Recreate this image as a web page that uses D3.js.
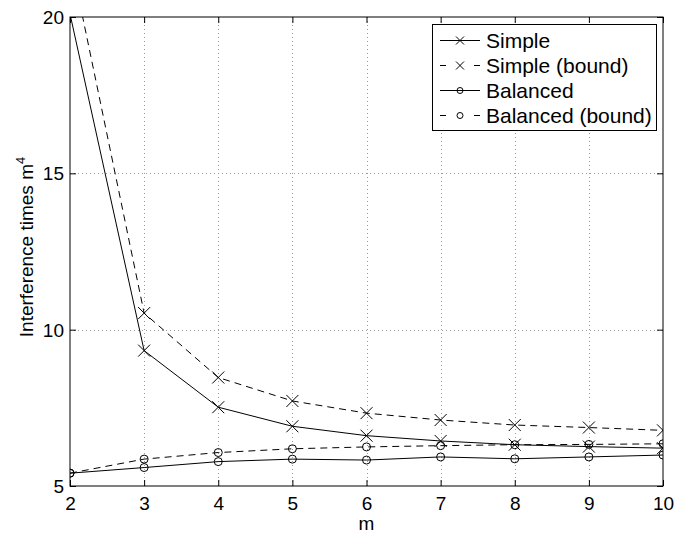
<!DOCTYPE html>
<html><head><meta charset="utf-8">
<script src="https://cdn.jsdelivr.net/npm/d3@7"></script>
<style>body{margin:0;background:#fff}svg{display:block}text{font-family:"Liberation Sans",Arial,sans-serif;fill:#000}</style>
</head><body>
<svg id="c" width="675" height="534"></svg>
<script>
const mValues = [2,3,4,5,6,7,8,9,10];
const simple = [20.1,9.33,7.52,6.91,6.61,6.44,6.32,6.26,6.21];
const simpleBound = [21.95,10.53,8.47,7.72,7.33,7.11,6.95,6.87,6.78];
const balanced = [5.41,5.59,5.78,5.86,5.83,5.93,5.87,5.93,5.99];
const balancedBound = [5.41,5.86,6.07,6.19,6.25,6.29,6.32,6.33,6.35];
const xTicks = [2,3,4,5,6,7,8,9,10];
const yTicks = [5,10,15,20];
const seriesNames = ["Simple","Simple (bound)","Balanced","Balanced (bound)"];

const svg = d3.select("#c");
const L=70, R=663, T=17, B=486;
const x = d3.scaleLinear().domain([2,10]).range([L,R]);
const y = d3.scaleLinear().domain([5,20]).range([B,T]);

// grid
const grid = svg.append("g").attr("stroke","#9a9a9a").attr("stroke-width",1).attr("stroke-dasharray","1,3");
xTicks.filter(v=>v>2&&v<10).forEach(v=>grid.append("line").attr("x1",Math.round(x(v))+0.5).attr("x2",Math.round(x(v))+0.5).attr("y1",T).attr("y2",B));
yTicks.filter(v=>v>5&&v<20).forEach(v=>grid.append("line").attr("x1",L).attr("x2",R).attr("y1",Math.round(y(v))+0.5).attr("y2",Math.round(y(v))+0.5));

// axes
const tl = 6;
const axB = svg.append("g").attr("transform",`translate(0,${B})`).call(d3.axisBottom(x).tickValues(xTicks).tickSize(-tl).tickPadding(11).tickFormat(d3.format("d")));
const axT = svg.append("g").attr("transform",`translate(0,${T})`).call(d3.axisTop(x).tickValues(xTicks).tickSize(-tl).tickFormat(""));
const axL = svg.append("g").attr("transform",`translate(${L},0)`).call(d3.axisLeft(y).tickValues(yTicks).tickSize(-tl).tickPadding(6).tickFormat(d3.format("d")));
const axR = svg.append("g").attr("transform",`translate(${R},0)`).call(d3.axisRight(y).tickValues(yTicks).tickSize(-tl).tickFormat(""));
[axB,axT,axL,axR].forEach(a=>{a.select(".domain").remove();a.selectAll("line").attr("stroke","#000");a.selectAll("text").style("font-size","19px").style("font-family",'"Liberation Sans",Arial,sans-serif');});
axL.selectAll("text").attr("dy","0.35em");
svg.append("rect").attr("x",L).attr("y",T).attr("width",R-L).attr("height",B-T).attr("fill","none").attr("stroke","#000").attr("stroke-width",1);

// clip
svg.append("clipPath").attr("id","clip").append("rect").attr("x",L).attr("y",T).attr("width",R-L).attr("height",B-T);
const plot = svg.append("g").attr("clip-path","url(#clip)");

const series = [
  {name:seriesNames[0], v:simple, dash:null, marker:"x"},
  {name:seriesNames[1], v:simpleBound, dash:"7,5", marker:"x"},
  {name:seriesNames[2], v:balanced, dash:null, marker:"o"},
  {name:seriesNames[3], v:balancedBound, dash:"7,5", marker:"o"}
];
const line = d3.line().x((d,i)=>x(mValues[i])).y(d=>y(d));
function drawMarker(g, type, cx, cy, s){
  if(type==="x"){
    g.append("path").attr("d",`M${cx-s},${cy-s}L${cx+s},${cy+s}M${cx-s},${cy+s}L${cx+s},${cy-s}`).attr("stroke","#000").attr("stroke-width",1).attr("fill","none");
  } else {
    g.append("circle").attr("cx",cx).attr("cy",cy).attr("r",s).attr("stroke","#000").attr("stroke-width",1).attr("fill","none");
  }
}
series.forEach(s=>{
  plot.append("path").datum(s.v).attr("d",line).attr("fill","none").attr("stroke","#000").attr("stroke-width",1).attr("stroke-dasharray",s.dash);
  s.v.forEach((d,i)=>{ if(d<=20) drawMarker(plot, s.marker, x(mValues[i]), y(d), s.marker==="x"?6:4); });
});

// legend
const lg = svg.append("g");
const lx=432.5, ly=24.5, lw=224, lh=106;
lg.append("rect").attr("x",lx).attr("y",ly).attr("width",lw).attr("height",lh).attr("fill","#fff").attr("stroke","#000").attr("stroke-width",1);
series.forEach((s,i)=>{
  const cy = 40.5 + i*25;
  lg.append("line").attr("x1",440).attr("x2",480).attr("y1",cy).attr("y2",cy).attr("stroke","#000").attr("stroke-width",1).attr("stroke-dasharray",s.dash?"6,28":null);
  drawMarker(lg, s.marker, 460, cy, s.marker==="x"?4:3);
  lg.append("text").attr("x",486).attr("y",cy).attr("dy","0.35em").style("font-size","21px").text(s.name);
});

// labels
svg.append("text").attr("x",(L+R)/2).attr("y",530).attr("text-anchor","middle").style("font-size","19px").text("m");
const yl = svg.append("text").attr("transform",`translate(33,247) rotate(-90)`).attr("text-anchor","middle").style("font-size","19px");
yl.append("tspan").text("Interference times m");
yl.append("tspan").attr("dy","-8").style("font-size","13px").text("4");
</script>
</body></html>
